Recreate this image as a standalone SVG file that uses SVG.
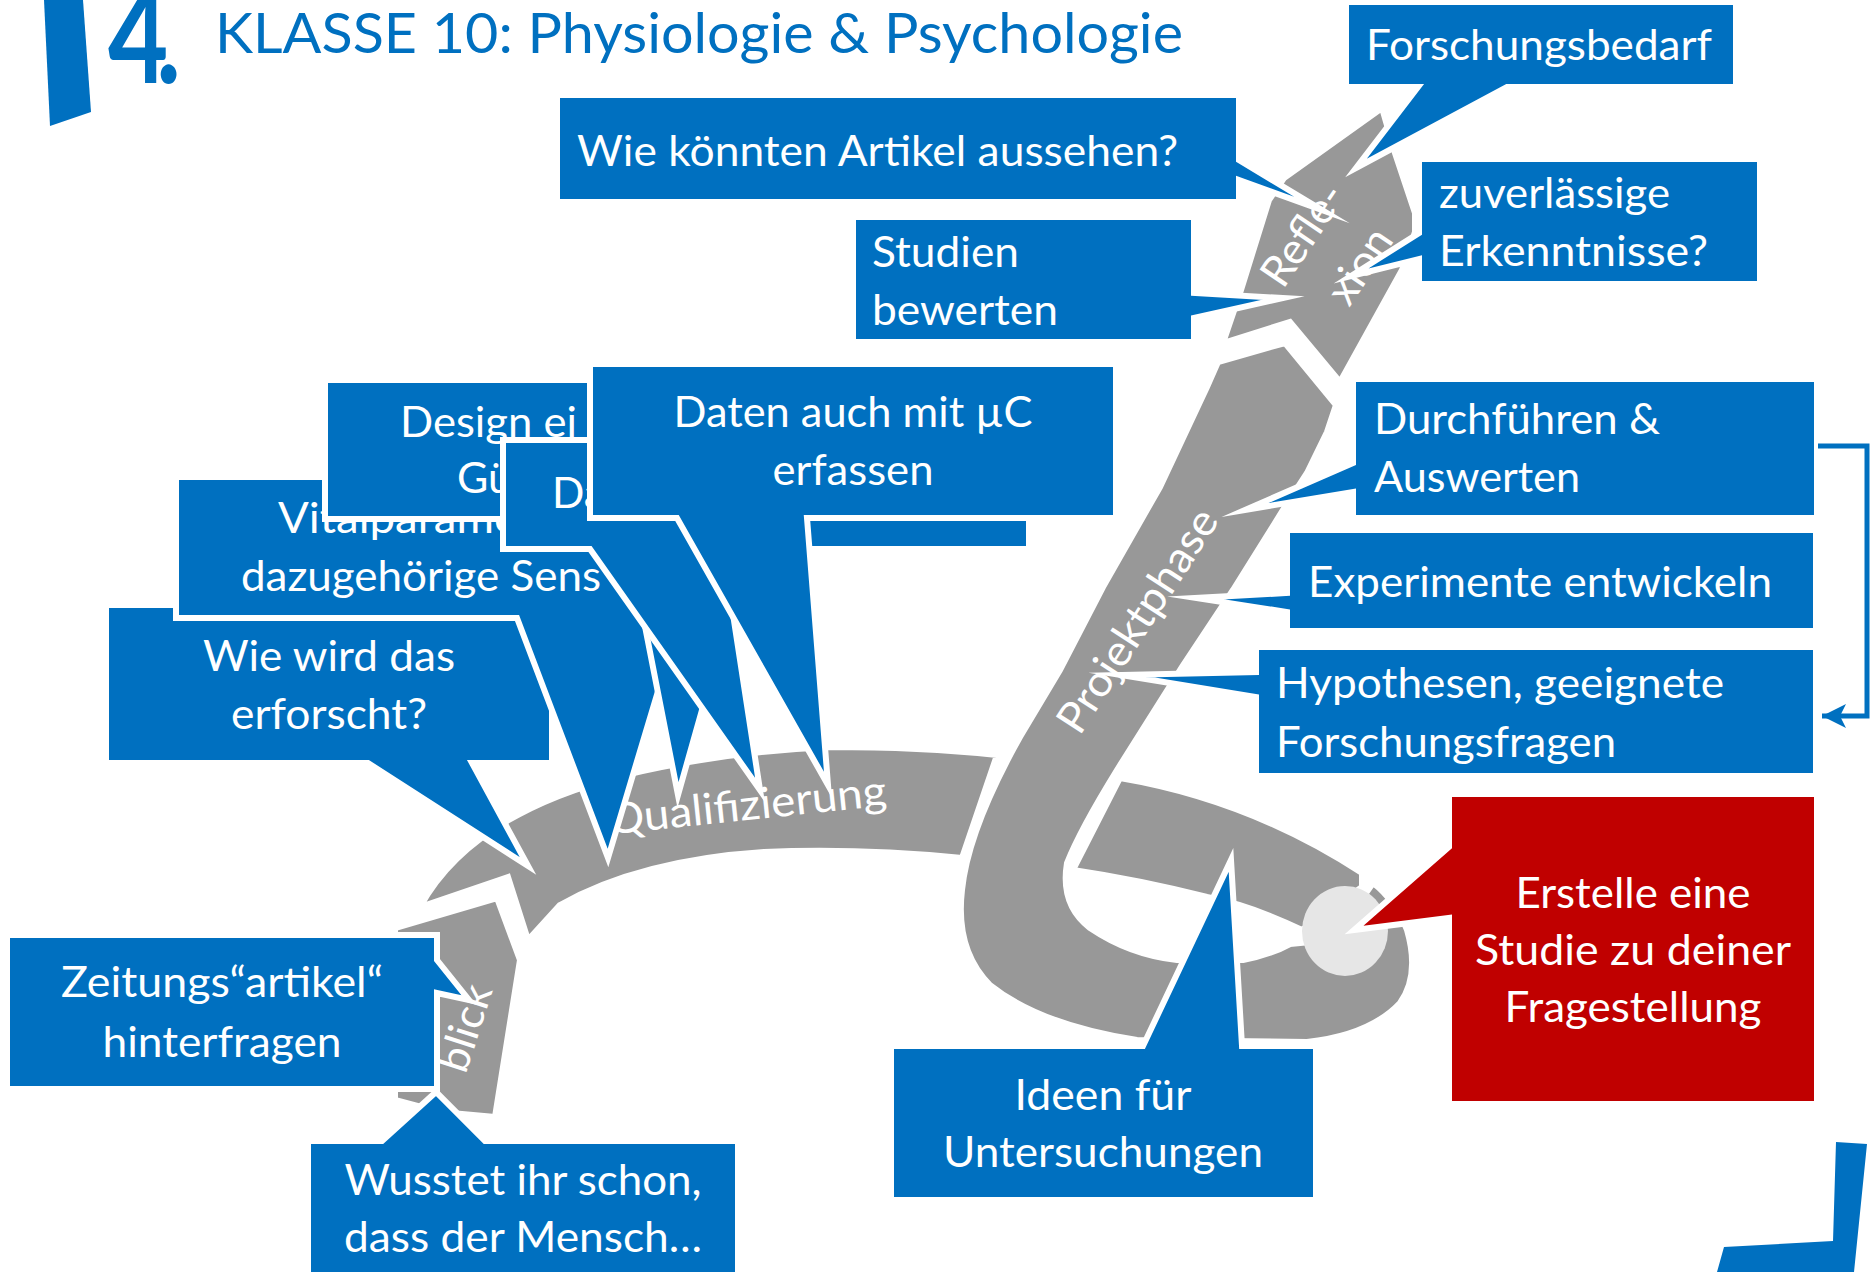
<svg xmlns="http://www.w3.org/2000/svg" width="1873" height="1272" viewBox="0 0 1873 1272">
<defs>
<style>
.seg{fill:#989898;stroke:#fff;stroke-width:6;stroke-linejoin:miter;stroke-miterlimit:20}
.co{fill:#0070C0;stroke:#fff;stroke-width:6;stroke-linejoin:miter;stroke-miterlimit:40}
.cr{fill:#C00000;stroke:#fff;stroke-width:6;stroke-linejoin:miter;stroke-miterlimit:40}
text{font-family:Lato,"Open Sans","Liberation Sans",sans-serif}
.t{font-size:43px;fill:#fff}
.m{text-anchor:middle}
.title{font-size:56px;fill:#0070C0}
.logo{fill:#0070C0}
</style>
<marker id="arr" markerUnits="userSpaceOnUse" markerWidth="24" markerHeight="24" refX="24" refY="12" orient="auto"><path d="M0,0 L24,12 L0,24 L6,12 Z" fill="#0070C0"/></marker>
</defs>
<rect width="1873" height="1272" fill="#fff"/>

<g id="road">
<path id="seg-einblick" class="seg" d="M395,928 L497,898 L520,960 L495,1117 L440,1112 L395,1100 Z"/>
<path id="seg-qualifizierung" class="seg" d="M420,907 Q470,815 621,776 Q720,752 830,747 Q920,747 997,755 L962,858 Q860,848 764,852 Q640,860 560,905 L528,940 L508,877 Z"/>
<path id="seg-loop" class="seg" d="M1120,778 Q1250,800 1362,873 L1362,887 L1302,930 Q1250,905 1207,897 Q1140,880 1073,870 Z"/>
<path id="seg-projekt" class="seg" d="M1218,362 L1285,343 L1336,405 L1327,432 L1307,473 L1283,510 L1233,590 L1182,667 L1117,770 Q1080,830 1067,863 Q1060,905 1090,928 Q1130,955 1177,960 L1243,960 Q1270,955 1290,944 L1310,942 L1345,931 L1366,893 L1373,883 Q1395,900 1407,930 Q1420,975 1400,1003 Q1370,1035 1307,1042 L1137,1040 Q1040,1025 990,985 Q955,950 962,890 Q968,830 1020,737 L1060,670 L1103,587 L1160,487 L1207,387 Z"/>
<path id="seg-reflexion" class="seg" d="M1382,108 L1395,153 L1415,213 L1415,232 L1402,270 L1340,382 L1290,322 L1223,343 L1241,290 L1269,200 L1284,178 Z"/>
<ellipse id="start" cx="1345" cy="931" rx="43" ry="45" fill="#E6E6E6"/>
<text class="t m" transform="translate(747,806) rotate(-6)" x="0" y="14" textLength="280" lengthAdjust="spacingAndGlyphs">Qualifizierung</text>
<text class="t m" transform="translate(1138,621) rotate(-57)" x="0" y="14" textLength="258" lengthAdjust="spacingAndGlyphs">Projektphase</text>
<text class="t m" transform="translate(465,1028) rotate(-72)" x="0" y="15" textLength="89" lengthAdjust="spacingAndGlyphs">blick</text>
<text class="t" transform="translate(1283,290) rotate(-56)" x="0" y="0" textLength="114" lengthAdjust="spacingAndGlyphs">Refle-</text>
<text class="t" transform="translate(1349,308) rotate(-56)" x="0" y="0" textLength="82" lengthAdjust="spacingAndGlyphs">xion</text>
</g>

<g id="callouts">
<g id="c-zeitung">
<path class="co" d="M7,935 H437 V960 L469,1000 L437,993 V1089 H7 Z"/>
<text class="t m" x="222" y="997" textLength="322" lengthAdjust="spacingAndGlyphs">Zeitungs“artikel“</text>
<text class="t m" x="222" y="1057" textLength="239" lengthAdjust="spacingAndGlyphs">hinterfragen</text>
</g>
<g id="c-wusstet">
<path class="co" d="M308,1141 H382 L436,1092 L485,1141 H738 V1300 H308 Z"/>
<text class="t m" x="523" y="1195" textLength="357" lengthAdjust="spacingAndGlyphs">Wusstet ihr schon,</text>
<text class="t m" x="523" y="1252" textLength="358" lengthAdjust="spacingAndGlyphs">dass der Mensch…</text>
</g>
<g id="c-wie">
<path class="co" d="M106,605 H552 V763 H472 L528,866 L368,763 H106 Z"/>
<text class="t m" x="329" y="671" textLength="252" lengthAdjust="spacingAndGlyphs">Wie wird das</text>
<text class="t m" x="329" y="729" textLength="196" lengthAdjust="spacingAndGlyphs">erforscht?</text>
</g>
<g id="c-vital">
<path class="co" d="M176,477 H690 V618 H680 L608,858 L517,618 H176 Z"/>
<text class="t" x="278" y="533" textLength="240" lengthAdjust="spacingAndGlyphs">Vitalparame</text>
<text class="t" x="241" y="591" textLength="360" lengthAdjust="spacingAndGlyphs">dazugehörige Sens</text>
</g>
<g id="c-design">
<path class="co" d="M325,380 H760 V519 H756 L678,795 L624,519 H325 Z"/>
<text class="t" x="400" y="437" textLength="177" lengthAdjust="spacingAndGlyphs">Design ei</text>
<text class="t" x="457" y="493" textLength="55" lengthAdjust="spacingAndGlyphs">Gü</text>
</g>
<g id="c-da">
<path class="co" d="M503,440 H1029 V549 H723 L760,790 L590,549 H503 Z"/>
<text class="t" x="552" y="508" textLength="53" lengthAdjust="spacingAndGlyphs">Da</text>
</g>
<g id="c-daten">
<path class="co" d="M590,364 H1116 V518 H807 L828,785 L677,518 H590 Z"/>
<text class="t m" x="853" y="427" textLength="359" lengthAdjust="spacingAndGlyphs">Daten auch mit µC</text>
<text class="t m" x="853" y="485" textLength="161" lengthAdjust="spacingAndGlyphs">erfassen</text>
</g>
<g id="c-artikel">
<path class="co" d="M557,95 H1239 V160 L1322,210 L1239,180 V202 H557 Z"/>
<text class="t" x="577" y="166" textLength="601" lengthAdjust="spacingAndGlyphs">Wie könnten Artikel aussehen?</text>
</g>
<g id="c-studien">
<path class="co" d="M853,217 H1194 V293 L1283,298 L1194,318 V342 H853 Z"/>
<text class="t" x="872" y="267" textLength="147" lengthAdjust="spacingAndGlyphs">Studien</text>
<text class="t" x="872" y="325" textLength="186" lengthAdjust="spacingAndGlyphs">bewerten</text>
</g>
<g id="c-forschungsbedarf">
<path class="co" d="M1346,2 H1736 V87 H1507 L1356,168 L1418,87 H1346 Z"/>
<text class="t" x="1366" y="60" textLength="346" lengthAdjust="spacingAndGlyphs">Forschungsbedarf</text>
</g>
<g id="c-zuverlaessig">
<path class="co" d="M1419,159 H1760 V284 H1419 V259 L1351,276 L1419,233 Z"/>
<text class="t" x="1439" y="208" textLength="231" lengthAdjust="spacingAndGlyphs">zuverlässige</text>
<text class="t" x="1439" y="266" textLength="269" lengthAdjust="spacingAndGlyphs">Erkenntnisse?</text>
</g>
<g id="c-durchfuehren">
<path class="co" d="M1353,379 H1817 V518 H1353 V492 L1245,510 L1353,463 Z"/>
<text class="t" x="1374" y="434" textLength="286" lengthAdjust="spacingAndGlyphs">Durchführen &amp;</text>
<text class="t" x="1374" y="492" textLength="206" lengthAdjust="spacingAndGlyphs">Auswerten</text>
</g>
<g id="c-experimente">
<path class="co" d="M1287,530 H1816 V631 H1287 V612 L1196,598 L1287,593 Z"/>
<text class="t" x="1308" y="597" textLength="464" lengthAdjust="spacingAndGlyphs">Experimente entwickeln</text>
</g>
<g id="c-hypothesen">
<path class="co" d="M1256,647 H1816 V776 H1256 V697 L1121,675 L1256,672 Z"/>
<text class="t" x="1276" y="698" textLength="448" lengthAdjust="spacingAndGlyphs">Hypothesen, geeignete</text>
<text class="t" x="1276" y="757" textLength="340" lengthAdjust="spacingAndGlyphs">Forschungsfragen</text>
</g>
<g id="c-ideen">
<path class="co" d="M891,1046 H1143 L1231,860 L1242,1046 H1316 V1200 H891 Z"/>
<text class="t m" x="1103" y="1110" textLength="177" lengthAdjust="spacingAndGlyphs">Ideen für</text>
<text class="t m" x="1103" y="1167" textLength="320" lengthAdjust="spacingAndGlyphs">Untersuchungen</text>
</g>
<g id="c-studie">
<path class="cr" d="M1449,794 H1817 V1104 H1449 V918 L1354,930 L1449,847 Z"/>
<text class="t m" x="1633" y="908" textLength="235" lengthAdjust="spacingAndGlyphs">Erstelle eine</text>
<text class="t m" x="1633" y="965" textLength="316" lengthAdjust="spacingAndGlyphs">Studie zu deiner</text>
<text class="t m" x="1633" y="1022" textLength="257" lengthAdjust="spacingAndGlyphs">Fragestellung</text>
</g>
</g>

<g id="connectors">
<path d="M1818,446 H1867 V716 H1822" fill="none" stroke="#0070C0" stroke-width="5" marker-end="url(#arr)"/>
</g>

<g id="header">
<polygon class="logo" points="44,0 83,0 91,112 50,126"/>
<text transform="translate(108,83) scale(0.8,1)" x="0" y="0" font-family="'Liberation Sans',Arial,sans-serif" font-weight="bold" font-size="130" letter-spacing="-15" fill="#0070C0">4.</text>
<text class="title" x="215" y="53" textLength="968" lengthAdjust="spacingAndGlyphs">KLASSE 10: Physiologie &amp; Psychologie</text>
<polygon class="logo" points="1836,1142 1867,1144 1854,1272 1717,1272 1724,1247 1833,1241"/>
</g>
</svg>
